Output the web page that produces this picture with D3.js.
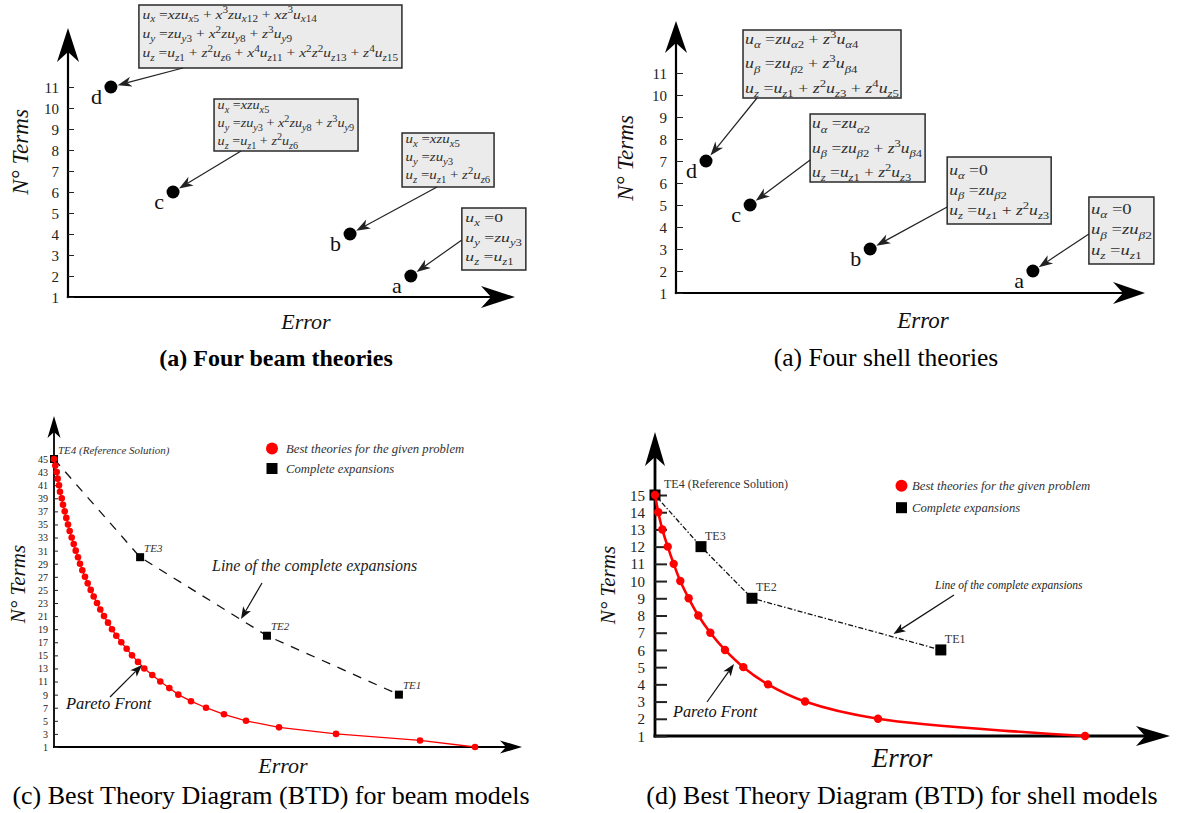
<!DOCTYPE html>
<html>
<head>
<meta charset="utf-8">
<script src="https://cdn.jsdelivr.net/npm/d3@7"></script>
<style>
  body { margin: 0; background: #fff; }
  svg { display: block; }
  text { font-family: "Liberation Serif", "Times New Roman", serif; white-space: pre; }
</style>
</head>
<body>
<svg id="fig" width="1184" height="813"></svg>
<script>
// ---------- data: four beam theories ----------
const beamLabels = ["a", "b", "c", "d"];
const beamError = [76.7, 63.1, 23.5, 9.6];
const beamTerms = [2, 4, 6, 11];
const beamFields = [
  ["u_{x} =0", "u_{y} =zu_{y3}", "u_{z} =u_{z1}"],
  ["u_{x} =xzu_{x5}", "u_{y} =zu_{y3}", "u_{z} =u_{z1} + z^{2}u_{z6}"],
  ["u_{x} =xzu_{x5}", "u_{y} =zu_{y3} + x^{2}zu_{y8} + z^{3}u_{y9}", "u_{z} =u_{z1} + z^{2}u_{z6}"],
  ["u_{x} =xzu_{x5} + x^{3}zu_{x12} + xz^{3}u_{x14}",
   "u_{y} =zu_{y3} + x^{2}zu_{y8} + z^{3}u_{y9}",
   "u_{z} =u_{z1} + z^{2}u_{z6} + x^{4}u_{z11} + x^{2}z^{2}u_{z13} + z^{4}u_{z15}"]
];
const beamTopTicks = [1, 2, 3, 4, 5, 6, 7, 8, 9, 10, 11];

// ---------- data: four shell theories ----------
const shellLabels = ["a", "b", "c", "d"];
const shellError = [76.1, 41.4, 15.8, 6.4];
const shellTerms = [2, 3, 5, 7];
const shellFields = [
  ["u_{α} =0", "u_{β} =zu_{β2}", "u_{z} =u_{z1}"],
  ["u_{α} =0", "u_{β} =zu_{β2}", "u_{z} =u_{z1} + z^{2}u_{z3}"],
  ["u_{α} =zu_{α2}", "u_{β} =zu_{β2} + z^{3}u_{β4}", "u_{z} =u_{z1} + z^{2}u_{z3}"],
  ["u_{α} =zu_{α2} + z^{3}u_{α4}", "u_{β} =zu_{β2} + z^{3}u_{β4}", "u_{z} =u_{z1} + z^{2}u_{z3} + z^{4}u_{z5}"]
];
const shellTopTicks = [1, 2, 3, 4, 5, 6, 7, 8, 9, 10, 11];

// ---------- data: BTD for beam models ----------
const beamParetoTerms = [45, 44, 43, 42, 41, 40, 39, 38, 37, 36, 35, 34, 33, 32, 31, 30, 29, 28, 27, 26, 25, 24, 23,
  22, 21, 20, 19, 18, 17, 16, 15, 14, 13, 12, 11, 10, 9, 8, 7, 6, 5, 4, 3, 2, 1];
const beamParetoError = [0, 0.28, 0.58, 0.79, 1.07, 1.28, 1.65, 1.92, 2.29, 2.63, 2.99, 3.35, 3.78, 4.21, 4.64,
  5.13, 5.56, 6.05, 6.62, 7.2, 7.84, 8.48, 9.19, 9.89, 10.68, 11.54, 12.39, 13.31, 14.38, 15.53, 16.67, 17.95,
  19.29, 21.0, 22.71, 24.64, 26.56, 29.27, 32.48, 36.32, 41.03, 48.08, 60.26, 78.21, 89.96];
const beamExpLabels = ["TE4 (Reference Solution)", "TE3", "TE2", "TE1"];
const beamExpError = [0, 18.4, 45.5, 73.7];
const beamExpTerms = [45, 30, 18, 9];
const beamBtdTicks = [1, 3, 5, 7, 9, 11, 13, 15, 17, 19, 21, 23, 25, 27, 29, 31, 33, 35, 37, 39, 41, 43, 45];

// ---------- data: BTD for shell models ----------
const shellParetoTerms = [15, 14, 13, 12, 11, 10, 9, 8, 7, 6, 5, 4, 3, 2, 1];
const shellParetoError = [0, 0.64, 1.42, 2.47, 3.63, 4.91, 6.54, 8.41, 10.74, 13.59, 17.15, 21.94, 29.13, 43.3, 83.5];
const shellExpLabels = ["TE4 (Reference Solution)", "TE3", "TE2", "TE1"];
const shellExpError = [0, 8.93, 18.83, 55.5];
const shellExpTerms = [15, 12, 9, 6];
const shellBtdTicks = [1, 2, 3, 4, 5, 6, 7, 8, 9, 10, 11, 12, 13, 14, 15];

const legendTexts = ["Best theories for the given problem", "Complete expansions"];
const RED = "#ff0000";

const svg = d3.select("#fig");

// ---------- helpers ----------
function arrowHead(g, tip, angle, len, wid, notch, fill) {
  const dx = Math.cos(angle), dy = Math.sin(angle);
  const px = -dy, py = dx;
  const bx = tip[0] - len * dx, by = tip[1] - len * dy;
  const nx = tip[0] - (len - notch) * dx, ny = tip[1] - (len - notch) * dy;
  const p = d3.path();
  p.moveTo(tip[0], tip[1]);
  p.lineTo(bx + px * wid / 2, by + py * wid / 2);
  p.lineTo(nx, ny);
  p.lineTo(bx - px * wid / 2, by - py * wid / 2);
  p.closePath();
  g.append("path").attr("d", p.toString()).attr("fill", fill);
  return [nx, ny];
}

function arrow(g, from, to, o) {
  const ang = Math.atan2(to[1] - from[1], to[0] - from[0]);
  const back = [to[0] - (o.len - o.notch) * Math.cos(ang), to[1] - (o.len - o.notch) * Math.sin(ang)];
  g.append("line")
    .attr("x1", from[0]).attr("y1", from[1]).attr("x2", back[0]).attr("y2", back[1])
    .attr("stroke", o.color).attr("stroke-width", o.width);
  arrowHead(g, to, ang, o.len, o.wid, o.notch, o.color);
}

// Parse a tiny TeX-like markup (x_{..}, x^{..}) into tspans
function mathLine(parent, str, x, y, fs, color) {
  const t = parent.append("text").attr("x", x).attr("y", y).attr("font-size", fs).attr("fill", color);
  const segs = [];
  let i = 0, buf = "";
  while (i < str.length) {
    const c = str[i];
    if (c === "_" || c === "^") {
      if (buf) { segs.push({ s: buf, lvl: 0 }); buf = ""; }
      let content;
      if (str[i + 1] === "{") {
        const j = str.indexOf("}", i + 2);
        content = str.slice(i + 2, j);
        i = j + 1;
      } else { content = str[i + 1]; i += 2; }
      segs.push({ s: content, lvl: c === "_" ? -1 : 1 });
    } else { buf += c; i++; }
  }
  if (buf) segs.push({ s: buf, lvl: 0 });
  let cur = 0;
  const letter = /[A-Za-zα-ω]/;
  segs.forEach(seg => {
    const size = seg.lvl ? fs * 0.72 : fs;
    const off = seg.lvl === -1 ? fs * 0.28 : seg.lvl === 1 ? -fs * 0.42 : 0;
    const runs = seg.s.match(/[A-Za-zα-ω]+|[^A-Za-zα-ω]+/g);
    runs.forEach((r, k) => {
      const ts = t.append("tspan").attr("font-size", size)
        .attr("font-style", letter.test(r) ? "italic" : "normal").text(r);
      if (k === 0 && off !== cur) { ts.attr("dy", off - cur); cur = off; }
    });
  });
  return t;
}

function drawAxes(g, x, y, o) {
  const x0 = x.range()[0], y0 = y.range()[0];
  const xTip = x.range()[1];
  g.append("line").attr("x1", x0).attr("y1", y0 + o.sw / 2).attr("x2", x0).attr("y2", o.yTip + o.head - o.notch)
    .attr("stroke", "#000").attr("stroke-width", o.sw);
  arrowHead(g, [x0, o.yTip], -Math.PI / 2, o.head, o.headW, o.notch, "#000");
  g.append("line").attr("x1", x0 - o.sw / 2).attr("y1", y0).attr("x2", xTip - o.head + o.notch).attr("y2", y0)
    .attr("stroke", "#000").attr("stroke-width", o.sw);
  arrowHead(g, [xTip, y0], 0, o.head, o.headW, o.notch, "#000");

  const ax = g.append("g").attr("transform", `translate(${x0},0)`)
    .call(d3.axisLeft(y).tickValues(o.ticks).tickSize(-o.tick).tickPadding(o.pad).tickFormat(d3.format("d")));
  ax.select(".domain").remove();
  ax.attr("font-family", null).attr("font-size", null);
  ax.selectAll(".tick line").attr("stroke", "#222").attr("stroke-width", o.tickW);
  ax.selectAll(".tick text").attr("fill", "#222").attr("font-size", o.fs)
    .attr("font-family", '"Liberation Serif", serif').attr("dy", "0.34em");

  // axis titles
  g.append("text").attr("x", o.errorPos[0]).attr("y", o.errorPos[1]).attr("dy", "0.33em")
    .attr("text-anchor", "middle").attr("font-style", "italic").attr("font-size", o.errorFs)
    .attr("fill", "#111").text("Error");
  g.append("text").attr("transform", `translate(${o.termsPos[0]},${o.termsPos[1]}) rotate(-90)`)
    .attr("dy", "0.33em").attr("text-anchor", "middle").attr("font-style", "italic")
    .attr("font-size", o.termsFs).attr("fill", "#111").text("N° Terms");
}

function caption(txt, cx, y, fs, weight) {
  svg.append("text").attr("x", cx).attr("y", y).attr("text-anchor", "middle")
    .attr("font-size", fs).attr("font-weight", weight || "normal").attr("fill", "#000").text(txt);
}

// Top diagrams: theories as dots with displacement-field boxes
function theoryPanel(g, x, y, labels, errs, terms, fields, layout, fs, pad) {
  labels.forEach((lab, i) => {
    const px = x(errs[i]), py = y(terms[i]);
    const L = layout[i];
    const bx = px + L.dx, by = py + L.dy;
    const box = g.append("g");
    box.append("rect").attr("x", bx).attr("y", by).attr("width", L.w).attr("height", L.h)
      .attr("fill", "#ebebeb").attr("stroke", "#2a2a2a").attr("stroke-width", 1.5);
    const tg = box.append("g");
    const lines = fields[i].map((f, k) => mathLine(tg, f, 0, by + L.first + k * L.step, fs, "#2e2e2e"));
    const maxW = d3.max(lines, t => t.node().getBBox().width);
    const sx = (L.w - 2 * pad) / maxW;
    tg.attr("transform", `translate(${bx + pad},0) scale(${sx},1)`);

    // arrow from box to dot
    const from = [bx + L.anchor[0], by + L.anchor[1]];
    const ang = Math.atan2(py - from[1], px - from[0]);
    const r = 6.5;
    const to = [px - (r + 0.5) * Math.cos(ang), py - (r + 0.5) * Math.sin(ang)];
    arrow(g, from, to, { len: 14, wid: 10, notch: 4, color: "#222", width: 1.2 });

    g.append("circle").attr("cx", px).attr("cy", py).attr("r", r).attr("fill", "#000");
    g.append("text").attr("x", px - 9).attr("y", py + 17).attr("text-anchor", "end")
      .attr("font-size", 22).attr("fill", "#111").text(lab);
  });
}

// Best Theory Diagram panels
function btdPanel(g, x, y, o) {
  const exp = o.expErr.map((e, i) => ({ e, t: o.expTerms[i], lab: o.expLabels[i] }));
  const par = o.parErr.map((e, i) => ({ e, t: o.parTerms[i] }));

  g.append("path").datum(exp)
    .attr("d", d3.line().x(d => x(d.e)).y(d => y(d.t)))
    .attr("fill", "none").attr("stroke", "#111").attr("stroke-width", 1.3)
    .attr("stroke-dasharray", o.dash);
  g.selectAll(null).data(exp).enter().append("rect")
    .attr("x", d => x(d.e) - o.sq / 2).attr("y", d => y(d.t) - o.sq / 2)
    .attr("width", o.sq).attr("height", o.sq).attr("fill", "#000");
  g.selectAll(null).data(exp).enter().append("text")
    .attr("x", (d, i) => x(d.e) + (i === 0 ? o.labDx0 : o.labDx))
    .attr("y", d => y(d.t) + o.labDy)
    .attr("font-size", o.labFs).attr("font-style", o.labStyle).attr("fill", "#333")
    .text(d => d.lab);

  g.append("path").datum(par.slice().sort((a, b) => a.e - b.e))
    .attr("d", d3.line().x(d => x(d.e)).y(d => y(d.t)).curve(o.curve))
    .attr("fill", "none").attr("stroke", RED).attr("stroke-width", o.redW);
  g.selectAll(null).data(par).enter().append("circle")
    .attr("cx", d => x(d.e)).attr("cy", d => y(d.t)).attr("r", o.dotR).attr("fill", RED);

  // legend
  const lg = o.legend;
  g.append("circle").attr("cx", lg.x).attr("cy", lg.y).attr("r", 6).attr("fill", RED);
  g.append("rect").attr("x", lg.x - 5.5).attr("y", lg.y + lg.gap - 5.5).attr("width", 11).attr("height", 11).attr("fill", "#000");
  legendTexts.forEach((t, i) => {
    g.append("text").attr("x", lg.x + lg.tx).attr("y", lg.y + i * lg.gap + 4.5)
      .attr("font-size", lg.fs).attr("font-style", "italic").attr("fill", "#333").text(t);
  });

  // annotations
  const an = o.lineNote;
  g.append("text").attr("x", an.x).attr("y", an.y).attr("font-size", an.fs).attr("font-style", "italic")
    .attr("fill", "#222").text("Line of the complete expansions");
  arrow(g, an.from, an.to, { len: 12, wid: 9, notch: 3, color: "#111", width: 1.2 });
  const pf = o.paretoNote;
  g.append("text").attr("x", pf.x).attr("y", pf.y).attr("font-size", pf.fs).attr("font-style", "italic")
    .attr("fill", "#111").text("Pareto Front");
  arrow(g, pf.from, pf.to, { len: 12, wid: 9, notch: 3, color: "#111", width: 1.2 });
}

// ---------- (a) four beam theories ----------
const xA = d3.scaleLinear([0, 100], [68, 515]);
const yA = d3.scaleLinear([1, 11], [297, 87]);
const gA = svg.append("g");
drawAxes(gA, xA, yA, {
  yTip: 28, head: 34, headW: 22, notch: 10, sw: 2.2, ticks: beamTopTicks, tick: 6, tickW: 1, pad: 9, fs: 15,
  errorPos: [306, 322], errorFs: 22, termsPos: [20, 152], termsFs: 23
});
theoryPanel(gA, xA, yA, beamLabels, beamError, beamTerms, beamFields, [
  { dx: 51, dy: -68, w: 64, h: 62, first: 14.5, step: 19.5, anchor: [0, 32] },
  { dx: 52, dy: -101, w: 92, h: 54, first: 10, step: 18, anchor: [35, 54] },
  { dx: 41, dy: -93, w: 144, h: 52, first: 10, step: 18, anchor: [27, 52] },
  { dx: 28, dy: -82, w: 263, h: 63, first: 13.8, step: 19.2, anchor: [44, 63] }
], 13, 3.5);
caption("(a) Four beam theories", 276, 366, 24, "bold");

// ---------- (a) four shell theories ----------
const xB = d3.scaleLinear([0, 100], [676, 1145]);
const yB = d3.scaleLinear([1, 11], [293, 73]);
const gB = svg.append("g");
drawAxes(gB, xB, yB, {
  yTip: 21, head: 32, headW: 22, notch: 10, sw: 2.2, ticks: shellTopTicks, tick: 7, tickW: 1, pad: 9, fs: 15,
  errorPos: [923, 320], errorFs: 23, termsPos: [625, 158], termsFs: 23
});
theoryPanel(gB, xB, yB, shellLabels, shellError, shellTerms, shellFields, [
  { dx: 56, dy: -74, w: 65, h: 67, first: 17, step: 20.5, anchor: [0, 37] },
  { dx: 77, dy: -92, w: 104, h: 67, first: 18, step: 20, anchor: [0, 50] },
  { dx: 60, dy: -91, w: 115, h: 68, first: 14.5, step: 24.3, anchor: [0, 46] },
  { dx: 37, dy: -131, w: 158, h: 68, first: 14, step: 24.5, anchor: [14, 68] }
], 14.5, 2);
caption("(a) Four shell theories", 886, 366, 25.5);

// ---------- (c) BTD beam ----------
const xC = d3.scaleLinear([0, 100], [54, 522]);
const yC = d3.scaleLinear([1, 45], [747, 459]);
const gC = svg.append("g");
drawAxes(gC, xC, yC, {
  yTip: 416, head: 22, headW: 13, notch: 6, sw: 1.8, ticks: beamBtdTicks, tick: 4, tickW: 1, pad: 6, fs: 10,
  errorPos: [283, 766], errorFs: 22, termsPos: [18, 584], termsFs: 21
});
btdPanel(gC, xC, yC, {
  expErr: beamExpError, expTerms: beamExpTerms, expLabels: beamExpLabels,
  parErr: beamParetoError, parTerms: beamParetoTerms,
  dash: "9,8", sq: 8, labDx0: 4, labDx: 4, labDy: -5.5, labFs: 11, labStyle: "italic",
  curve: d3.curveLinear, redW: 1.3, dotR: 3.3,
  legend: { x: 272, y: 448.5, gap: 20, tx: 14, fs: 12.7 },
  lineNote: { x: 212, y: 571, fs: 16, from: [262, 583], to: [241, 619] },
  paretoNote: { x: 66, y: 709, fs: 16.5, from: [110, 697], to: [142, 665] }
});
caption("(c) Best Theory Diagram (BTD) for beam models", 271, 804, 26);

// ---------- (d) BTD shell ----------
const xD = d3.scaleLinear([0, 100], [655, 1170]);
const yD = d3.scaleLinear([1, 15], [736, 495]);
const gD = svg.append("g");
drawAxes(gD, xD, yD, {
  yTip: 432, head: 34, headW: 20, notch: 9, sw: 2.8, ticks: shellBtdTicks, tick: 12, tickW: 2, pad: 10, fs: 15,
  errorPos: [902, 758], errorFs: 27, termsPos: [608, 585], termsFs: 21
});
btdPanel(gD, xD, yD, {
  expErr: shellExpError, expTerms: shellExpTerms, expLabels: shellExpLabels,
  parErr: shellParetoError, parTerms: shellParetoTerms,
  dash: "5,2,1.5,2", sq: 11, labDx0: 9, labDx: 4, labDy: -7, labFs: 12, labStyle: "normal",
  curve: d3.curveCatmullRom, redW: 2.6, dotR: 4.2,
  legend: { x: 901.5, y: 485.7, gap: 22, tx: 10.5, fs: 12.7 },
  lineNote: { x: 935, y: 588.5, fs: 11.5, from: [954, 595], to: [893.5, 634] },
  paretoNote: { x: 673, y: 717.3, fs: 16.3, from: [707, 702], to: [734, 664] }
});
caption("(d) Best Theory Diagram (BTD) for shell models", 902, 804, 26);
</script>
</body>
</html>
